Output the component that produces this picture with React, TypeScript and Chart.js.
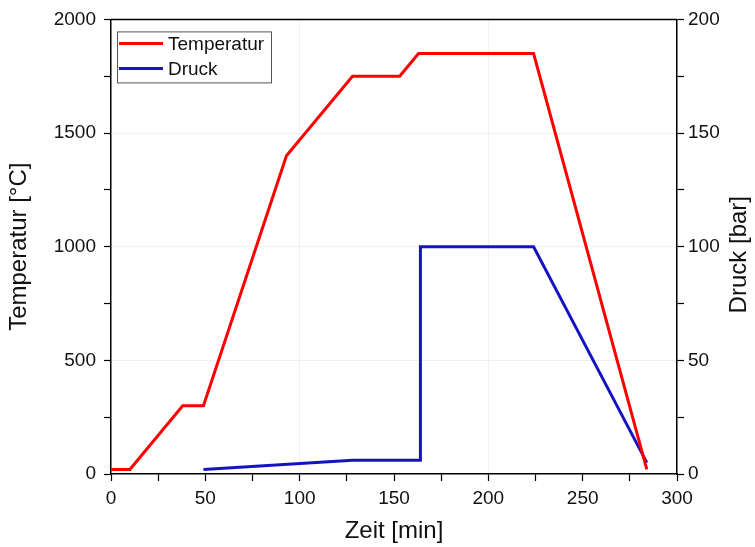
import React, { useEffect, useRef } from "react";
import { Chart, registerables } from "chart.js";

Chart.register(...registerables);

const tempTime = [0, 10, 38, 49, 93, 128, 153, 163, 224, 284];
const tempValues = [20, 20, 300, 300, 1400, 1750, 1750, 1850, 1850, 20];
const pressTime = [49, 128, 164, 164, 224, 284];
const pressValues = [2, 6, 6, 100, 100, 5];

const xTitle = "Zeit [min]";
const yTitle = "Temperatur [°C]";
const y2Title = "Druck [bar]";
const tempLabel = "Temperatur";
const pressLabel = "Druck";

const FONT = "'Liberation Sans', Arial, sans-serif";

const framePlugin = {
  id: "frameAndLegend",
  afterDatasetsDraw(chart: any) {
    const { ctx, chartArea } = chart;
    ctx.save();
    ctx.strokeStyle = "#000";
    ctx.lineWidth = 1.5;
    ctx.beginPath();
    ctx.moveTo(chartArea.left, chartArea.top);
    ctx.lineTo(chartArea.right, chartArea.top);
    ctx.stroke();

    // legend
    const lx = chartArea.left + 6;
    const ly = chartArea.top + 12;
    const w = 154;
    const h = 51;
    ctx.fillStyle = "#fff";
    ctx.fillRect(lx, ly, w, h);
    ctx.strokeStyle = "#555";
    ctx.lineWidth = 1;
    ctx.strokeRect(lx + 0.5, ly + 0.5, w, h);
    const items = chart.data.datasets;
    items.forEach((ds: any, i: number) => {
      const y = ly + 12 + i * 25;
      ctx.strokeStyle = ds.borderColor;
      ctx.lineWidth = 3;
      ctx.beginPath();
      ctx.moveTo(lx + 2, y);
      ctx.lineTo(lx + 46, y);
      ctx.stroke();
      ctx.fillStyle = "#111";
      ctx.font = `19px ${FONT}`;
      ctx.textBaseline = "middle";
      ctx.textAlign = "left";
      ctx.fillText(ds.label, lx + 51, y + 1);
    });

    // axis titles
    const midY = (chartArea.top + chartArea.bottom) / 2;
    const midX = (chartArea.left + chartArea.right) / 2;
    ctx.fillStyle = "#111";
    ctx.font = `24px ${FONT}`;
    ctx.textAlign = "center";
    ctx.textBaseline = "middle";
    ctx.fillText(xTitle, midX, 531);

    ctx.save();
    ctx.translate(19, midY);
    ctx.rotate(-Math.PI / 2);
    ctx.fillText(yTitle, 0, 0);
    ctx.restore();

    ctx.save();
    ctx.translate(739, midY + 8);
    ctx.rotate(-Math.PI / 2);
    ctx.fillText(y2Title, 0, 0);
    ctx.restore();

    ctx.restore();
  },
};

export default function App() {
  const ref = useRef<HTMLCanvasElement | null>(null);
  useEffect(() => {
    document.body.style.margin = "0";
    const tempData = tempTime.map((t, i) => ({ x: t, y: tempValues[i] }));
    const pressData = pressTime.map((t, i) => ({ x: t, y: pressValues[i] }));
    const gridColor = (step: number) => (c: any) =>
      c.tick && c.tick.value % step === 0 && c.tick.value !== 0 ? "rgba(0,0,0,0.06)" : "rgba(0,0,0,0)";
    const chart = new Chart(ref.current as HTMLCanvasElement, {
      type: "line",
      data: {
        datasets: [
          {
            label: tempLabel,
            data: tempData,
            borderColor: "#ff0000",
            backgroundColor: "#ff0000",
            borderWidth: 3,
            pointRadius: 0,
            tension: 0,
            yAxisID: "y",
          },
          {
            label: pressLabel,
            data: pressData,
            borderColor: "#1414c0",
            backgroundColor: "#1414c0",
            borderWidth: 3,
            pointRadius: 0,
            tension: 0,
            yAxisID: "y2",
          },
        ],
      },
      options: {
        animation: false,
        responsive: false,
        maintainAspectRatio: false,
        layout: { padding: { top: 19, left: 0, right: 0, bottom: 0 } },
        plugins: { legend: { display: false }, tooltip: { enabled: false } },
        scales: {
          x: {
            type: "linear",
            min: 0,
            max: 300,
            afterFit: (s: any) => { s.height = 73; },
            border: { display: true, color: "#000", width: 1.5 },
            grid: { color: gridColor(100), tickColor: "#000", tickLength: 7, tickWidth: 1.2 },
            ticks: {
              stepSize: 25,
              autoSkip: false,
              maxRotation: 0,
              color: "#111",
              font: { family: FONT, size: 19 },
              padding: 6,
              callback: (v: any) => (Number(v) % 50 === 0 ? String(v) : ""),
            },
            title: { display: false },
          },
          y: {
            type: "linear",
            position: "left",
            min: 0,
            max: 2000,
            afterFit: (s: any) => { s.width = 111; },
            border: { display: true, color: "#000", width: 1.5 },
            grid: { color: gridColor(500), tickColor: "#000", tickLength: 7, tickWidth: 1.2 },
            ticks: {
              stepSize: 250,
              autoSkip: false,
              color: "#111",
              font: { family: FONT, size: 19 },
              padding: 8,
              callback: (v: any) => (Number(v) % 500 === 0 ? String(v) : ""),
            },
            title: { display: false },
          },
          y2: {
            type: "linear",
            position: "right",
            min: 0,
            max: 200,
            afterFit: (s: any) => { s.width = 78; },
            border: { display: true, color: "#000", width: 1.5 },
            grid: { drawOnChartArea: false, tickColor: "#000", tickLength: 7, tickWidth: 1.2 },
            ticks: {
              stepSize: 25,
              autoSkip: false,
              color: "#111",
              font: { family: FONT, size: 19 },
              padding: 4,
              callback: (v: any) => (Number(v) % 50 === 0 ? String(v) : ""),
            },
            title: { display: false },
          },
        },
      },
      plugins: [framePlugin],
    } as any);
    return () => chart.destroy();
  }, []);
  return (
    <div style={{ width: 755, height: 547, background: "#fff" }}>
      <canvas ref={ref} width={755} height={547} style={{ display: "block" }} />
    </div>
  );
}
